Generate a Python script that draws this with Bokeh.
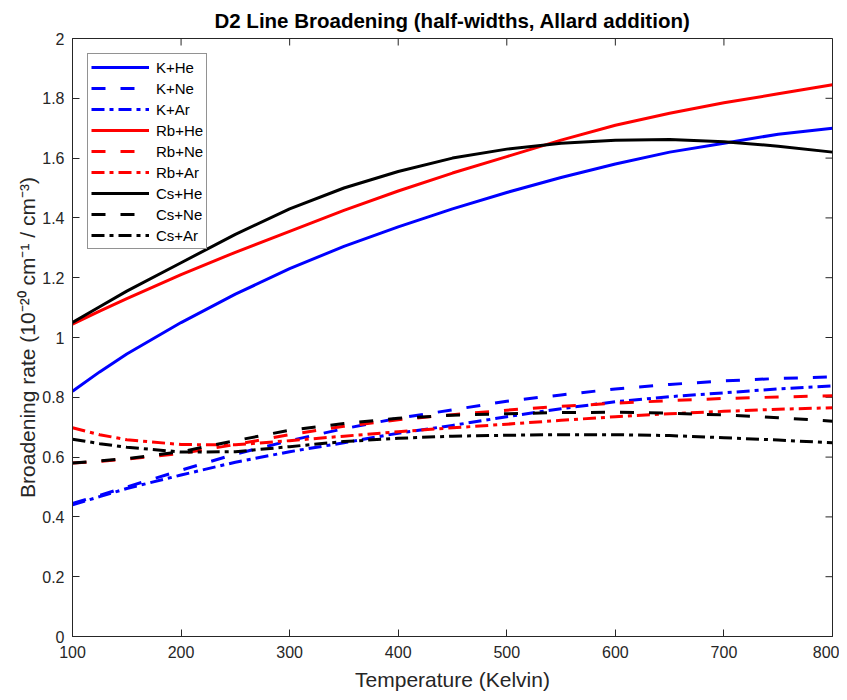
import math
from bokeh.plotting import figure
from bokeh.models import Range1d, FixedTicker, NumeralTickFormatter, Legend, LegendItem
from bokeh.embed import file_html
from bokeh.resources import INLINE

temperature = [100, 125, 150, 200, 250, 300, 350, 400, 450, 500, 550, 600, 650, 700, 750, 800]

k_he = [0.82, 0.885, 0.945, 1.05, 1.145, 1.23, 1.305, 1.37, 1.43, 1.485, 1.535, 1.58, 1.62, 1.65, 1.68, 1.70]
k_ne = [0.445, 0.472, 0.50, 0.556, 0.61, 0.655, 0.695, 0.73, 0.758, 0.787, 0.808, 0.828, 0.843, 0.855, 0.863, 0.868]
k_ar = [0.44, 0.468, 0.495, 0.54, 0.583, 0.618, 0.648, 0.68, 0.706, 0.735, 0.762, 0.785, 0.802, 0.815, 0.828, 0.838]
rb_he = [1.045, 1.088, 1.13, 1.21, 1.285, 1.355, 1.425, 1.49, 1.55, 1.605, 1.66, 1.71, 1.75, 1.785, 1.815, 1.845]
rb_ne = [0.58, 0.586, 0.593, 0.612, 0.642, 0.675, 0.703, 0.725, 0.742, 0.757, 0.77, 0.78, 0.789, 0.796, 0.801, 0.805]
rb_ar = [0.698, 0.675, 0.658, 0.642, 0.641, 0.655, 0.67, 0.685, 0.698, 0.71, 0.723, 0.735, 0.745, 0.753, 0.76, 0.765]
cs_he = [1.05, 1.103, 1.155, 1.25, 1.345, 1.43, 1.50, 1.555, 1.60, 1.63, 1.65, 1.66, 1.662, 1.655, 1.64, 1.62]
cs_ne = [0.58, 0.587, 0.595, 0.618, 0.655, 0.69, 0.712, 0.73, 0.74, 0.745, 0.749, 0.75, 0.747, 0.741, 0.732, 0.72]
cs_ar = [0.66, 0.645, 0.633, 0.617, 0.618, 0.635, 0.652, 0.663, 0.67, 0.673, 0.675, 0.675, 0.672, 0.665, 0.657, 0.648]

series_names = ["K+He", "K+Ne", "K+Ar", "Rb+He", "Rb+Ne", "Rb+Ar", "Cs+He", "Cs+Ne", "Cs+Ar"]
series_values = [k_he, k_ne, k_ar, rb_he, rb_ne, rb_ar, cs_he, cs_ne, cs_ar]

x_ticks = [100, 200, 300, 400, 500, 600, 700, 800]
y_ticks = [0, 0.2, 0.4, 0.6, 0.8, 1.0, 1.2, 1.4, 1.6, 1.8, 2.0]
x_min, x_max = 100, 800
y_min, y_max = 0, 2

colors = {"K": "#0000FF", "Rb": "#FF0000", "Cs": "#000000"}
dashes = {"He": "solid", "Ne": "14 15", "Ar": "13 5 4 5"}

FONT = "Liberation Sans"
AX = "#262626"

p = figure(frame_width=760, frame_height=598, output_backend="svg", toolbar_location=None,
           x_range=Range1d(x_min, x_max), y_range=Range1d(y_min, y_max),
           title="D2 Line Broadening (half-widths, Allard addition)",
           min_border_left=72, min_border_right=7, min_border_top=30, min_border_bottom=58)

p.title.align = "center"
p.title.text_font = FONT
p.title.text_font_size = "20.5px"
p.title.text_font_style = "bold"
p.title.text_color = "#000000"
p.title.text_line_height = 1.0
p.title.standoff = 13

p.xgrid.visible = False
p.ygrid.visible = False
p.outline_line_color = AX
p.outline_line_width = 1
p.background_fill_color = "white"
p.border_fill_color = "white"

for ax in (p.xaxis[0], p.yaxis[0]):
    ax.axis_line_color = AX
    ax.major_tick_line_color = AX
    ax.major_tick_in = 7
    ax.major_tick_out = 0
    ax.minor_tick_line_color = None
    ax.major_label_text_font = FONT
    ax.major_label_text_font_size = "16px"
    ax.major_label_text_color = AX
    ax.axis_label_text_font = FONT
    ax.axis_label_text_font_size = "21px"
    ax.axis_label_text_font_style = "normal"
    ax.axis_label_text_color = AX

p.xaxis.ticker = FixedTicker(ticks=x_ticks)
p.yaxis.ticker = FixedTicker(ticks=y_ticks)
p.yaxis.formatter = NumeralTickFormatter(format="0.[0]")
p.xaxis.axis_label = "Temperature (Kelvin)"
p.yaxis.axis_label = "Broadening rate (10\u207b\u00b2\u2070 cm\u207b\u00b9 / cm\u207b\u00b3)"
p.xaxis.major_label_standoff = 9
p.yaxis.major_label_standoff = 8
p.xaxis.axis_label_standoff = 7
p.yaxis.axis_label_standoff = 0

# inward ticks on the top and right edges of the box
p.ray(x=x_ticks, y=[y_max] * len(x_ticks), length=7, length_units="screen",
      angle=-math.pi / 2, line_color=AX, line_width=1)
p.ray(x=[x_max] * len(y_ticks), y=y_ticks, length=7, length_units="screen",
      angle=math.pi, line_color=AX, line_width=1)

items = []
for name, vals in zip(series_names, series_values):
    metal, gas = name.split("+")
    r = p.line(temperature, vals, line_color=colors[metal], line_width=3,
               line_dash=dashes[gas], line_cap="butt", line_join="round")
    items.append(LegendItem(label=name, renderers=[r]))

legend = Legend(items=items, location="top_left")
legend.margin = 15
legend.padding = 3
legend.spacing = 1
legend.glyph_width = 58
legend.glyph_height = 20
legend.label_height = 20
legend.label_standoff = 7
legend.label_text_font = FONT
legend.label_text_font_size = "15px"
legend.label_text_color = "#000000"
legend.border_line_color = AX
legend.border_line_width = 1
legend.background_fill_alpha = 1.0
p.add_layout(legend, "center")

open("out.html", "w").write(file_html(p, INLINE))
